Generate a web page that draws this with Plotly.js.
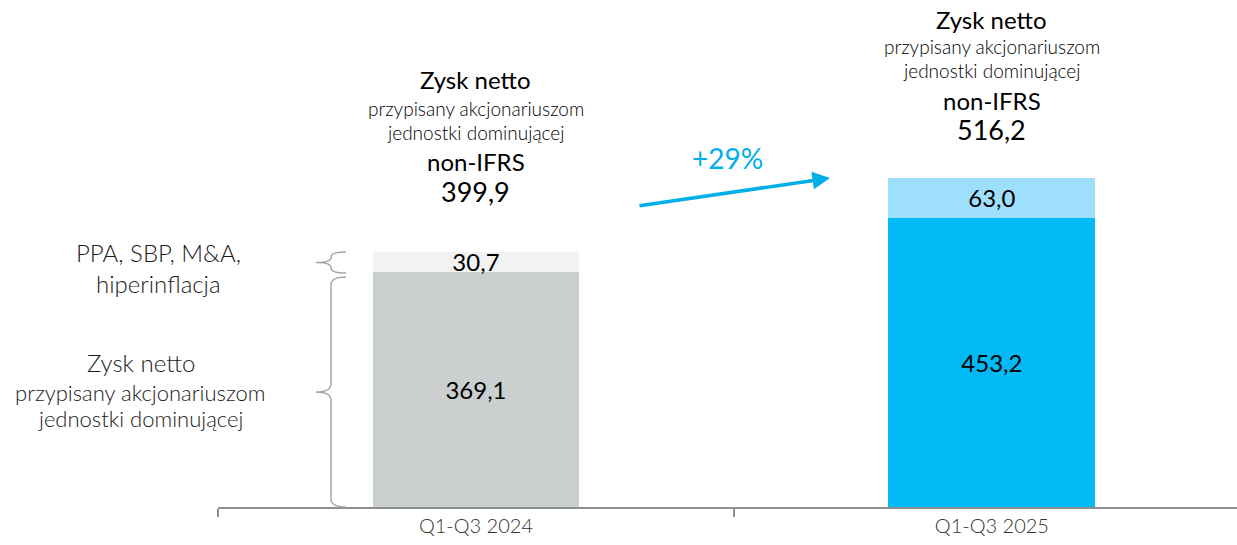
<!DOCTYPE html>
<html>
<head>
<meta charset="utf-8">
<script src="https://cdn.plot.ly/plotly-3.0.1.min.js"></script>
<style>html,body{margin:0;padding:0;background:#fff;}#chart{width:1237px;height:545px;}</style>
</head>
<body>
<div id="chart"></div>
<script>
// ---- data ----
const categories = ["Q1-Q3 2024", "Q1-Q3 2025"];
const baseValues = [369.1, 453.2];        // Zysk netto przypisany akcjonariuszom jednostki dominującej
const adjValues  = [30.7, 63.0];          // PPA, SBP, M&A, hiperinflacja
const totalValues = [399.9, 516.2];       // non-IFRS
const baseLabels = ["369,1", "453,2"];
const adjLabels  = ["30,7", "63,0"];
const totalLabels = ["399,9", "516,2"];
const growthLabel = "+29%";

// ---- geometry helpers (pixel -> paper) ----
const W = 1237, H = 545;
const ML = 218, MR = 0, MT = 0, MB = 38;
const PW = W - ML - MR, PH = H - MT - MB;
const px = x => (x - ML) / PW;
const py = y => (H - MB - y) / PH;

const FONT = "Lato, 'Open Sans', sans-serif";

const traces = [
  {
    type: "bar", x: categories, y: baseValues, text: baseLabels,
    textposition: "inside", insidetextanchor: "middle", textangle: 0, constraintext: "none",
    textfont: {family: FONT, size: 24, color: "#000"},
    marker: {color: ["#cbcfcf", "#00b9f5"], line: {width: 0}},
    width: 0.401, hoverinfo: "skip"
  },
  {
    type: "bar", x: categories, y: adjValues, text: adjLabels,
    textposition: "inside", insidetextanchor: "middle", textangle: 0, constraintext: "none",
    textfont: {family: FONT, size: 24, color: "#000"},
    marker: {color: ["#f2f2f2", "#9fdffe"], line: {width: 0}},
    width: 0.401, hoverinfo: "skip"
  }
];

const annotations = [];
// header blocks above each bar (offsets in px from bar top)
const headerOffsets = [
  [{t: "Zysk netto", s: 24, w: 400, d: 172}, {t: "przypisany akcjonariuszom", s: 19, w: 300, d: 143}, {t: "jednostki dominującej", s: 19, w: 300, d: 119}, {t: "non-IFRS", s: 24, w: 400, d: 90}, {t: null, s: 27, w: 400, d: 60}],
  [{t: "Zysk netto", s: 24, w: 400, d: 158}, {t: "przypisany akcjonariuszom", s: 19, w: 300, d: 131}, {t: "jednostki dominującej", s: 19, w: 300, d: 107}, {t: "non-IFRS", s: 24, w: 400, d: 77}, {t: null, s: 27, w: 400, d: 48}]
];
categories.forEach((c, i) => {
  headerOffsets[i].forEach(h => {
    annotations.push({
      xref: "x", yref: "y", x: c, y: totalValues[i], yshift: h.d,
      text: h.t === null ? totalLabels[i] : h.t, showarrow: false,
      yanchor: "middle", xanchor: "center",
      font: {family: FONT, size: h.s, weight: h.w, color: "#000"}
    });
  });
});

// left side labels
const leftLabels = [
  {t: "PPA, SBP, M&A,", s: 24, x: 158, y: 252},
  {t: "hiperinflacja", s: 24, x: 158, y: 283},
  {t: "Zysk netto", s: 24, x: 141, y: 362},
  {t: "przypisany akcjonariuszom", s: 22, x: 140, y: 392},
  {t: "jednostki dominującej", s: 22, x: 140, y: 418}
];
leftLabels.forEach(l => {
  annotations.push({
    xref: "paper", yref: "paper", x: px(l.x), y: py(l.y), text: l.t, showarrow: false,
    xanchor: "center", yanchor: "middle", font: {family: FONT, size: l.s, weight: 300, color: "#1a1a1a"}
  });
});

// growth arrow
annotations.push({
  xref: "paper", yref: "paper", x: px(830), y: py(178), text: "",
  showarrow: true, axref: "pixel", ayref: "pixel", ax: 638 - 830, ay: 206 - 178,
  arrowhead: 2, arrowsize: 1, arrowwidth: 3.5, arrowcolor: "#00aee8", standoff: 0
});
annotations.push({
  xref: "paper", yref: "paper", x: px(727), y: py(158), text: growthLabel, showarrow: false,
  xanchor: "center", yanchor: "middle", font: {family: FONT, size: 28, color: "#00aee8"}
});

// curly braces
function brace(top, bottom, r) {
  const tip = 346, spine = 331, point = 316, mid = (top + bottom) / 2;
  const X = v => px(v).toFixed(5), Y = v => py(v).toFixed(5);
  return `M ${X(tip)} ${Y(top)} Q ${X(spine)} ${Y(top)} ${X(spine)} ${Y(top + r)} ` +
         `L ${X(spine)} ${Y(mid - r)} Q ${X(spine)} ${Y(mid)} ${X(point)} ${Y(mid)} ` +
         `Q ${X(spine)} ${Y(mid)} ${X(spine)} ${Y(mid + r)} ` +
         `L ${X(spine)} ${Y(bottom - r)} Q ${X(spine)} ${Y(bottom)} ${X(tip)} ${Y(bottom)}`;
}
const shapes = [
  {type: "path", xref: "paper", yref: "paper", path: brace(252, 273, 5), line: {color: "#a6a6a6", width: 1.5}},
  {type: "path", xref: "paper", yref: "paper", path: brace(277, 507, 8), line: {color: "#a6a6a6", width: 1.5}}
];

const layout = {
  width: W, height: H,
  margin: {l: ML, r: MR, t: MT, b: MB, pad: 0},
  paper_bgcolor: "#fff", plot_bgcolor: "#fff",
  barmode: "stack", showlegend: false,
  xaxis: {
    type: "category", range: [-0.5, 1.475], showline: true, linecolor: "#8c9191", linewidth: 1.5,
    ticks: "outside", tickson: "boundaries", ticklen: 8, tickcolor: "#8c9191", tickwidth: 1.5,
    tickfont: {family: FONT, size: 20, weight: 300, color: "#333"}, showgrid: false, zeroline: false,
    automargin: false
  },
  yaxis: {range: [0, 795], visible: false, showgrid: false, zeroline: false, fixedrange: true},
  annotations: annotations, shapes: shapes
};

Plotly.newPlot("chart", traces, layout, {displayModeBar: false, staticPlot: true});
</script>
</body>
</html>
